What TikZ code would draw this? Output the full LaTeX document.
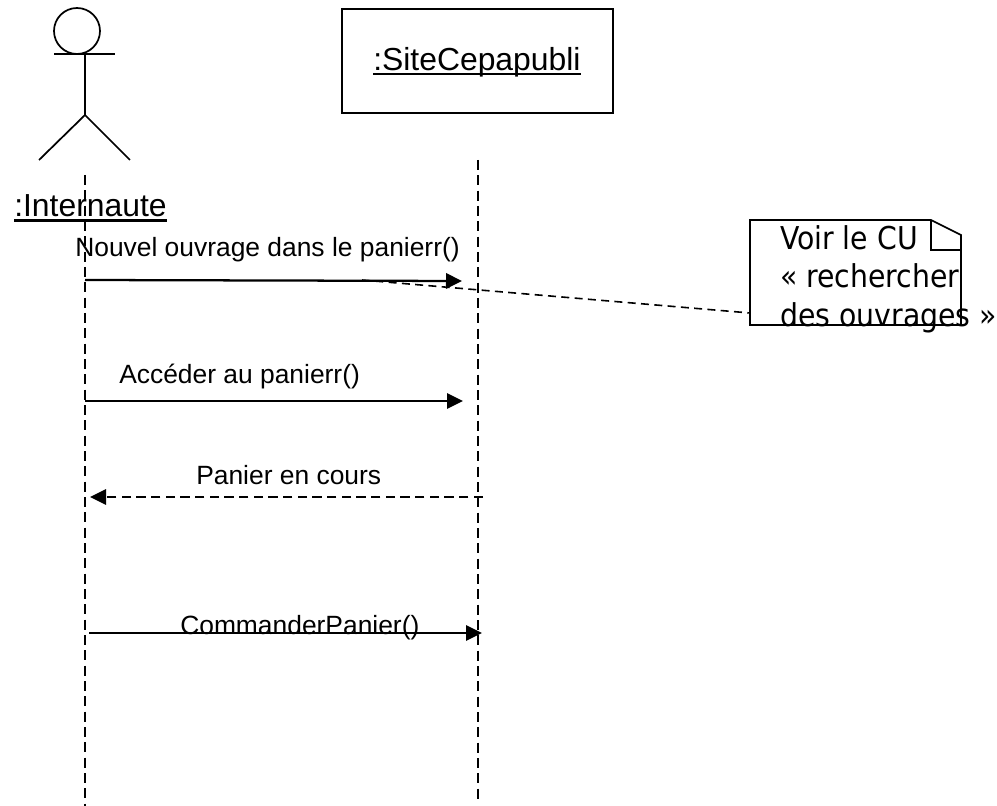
\documentclass[tikz,border=0pt]{standalone}
\usepackage{fontspec}
\setmainfont{Liberation Sans}
\newfontfamily\notefont{DejaVu Sans Condensed}
\usetikzlibrary{arrows.meta}
\newcommand{\ulbox}[3]{\setbox0=\hbox{#1}\leavevmode\rlap{\box0}\setbox0=\hbox{#1}\raisebox{#2}{\rule{\wd0}{#3}}}
\tikzset{
  x=0.75pt,y=-0.75pt,
  shape line/.style={draw=black,line width=1.3pt},
  lifeline/.style={draw=black,line width=1.3pt,dash pattern=on 7.5pt off 4pt},
  msg/.style={draw=black,line width=1.7pt,-{Triangle[length=12pt,width=11.5pt]}},
  retmsg/.style={draw=black,line width=1.7pt,dash pattern=on 7pt off 4pt,-{Triangle[length=12pt,width=11.5pt,sep=0pt]}},
  notelink/.style={draw=black,line width=1.2pt,dash pattern=on 6pt off 4pt},
  label/.style={anchor=base west,inner sep=0pt,font=\fontsize{19.8pt}{22pt}\selectfont},
  title/.style={anchor=base west,inner sep=0pt,font=\fontsize{23.9pt}{26pt}\selectfont},
  notetext/.style={anchor=base west,inner sep=0pt,font=\notefont\fontsize{23.6pt}{26pt}\selectfont},
}
\begin{document}
\begin{tikzpicture}
\useasboundingbox (0,0) rectangle (997,806);
% actor
\node[shape line,circle,minimum size=34.5pt,inner sep=0pt] (head) at (77,31) {};
\coordinate (armL) at (54,54);
\coordinate (armR) at (115,54);
\coordinate (neck) at (85,54);
\coordinate (hip) at (85,115);
\coordinate (legL) at (39,160);
\coordinate (legR) at (130,160);
\draw[shape line] (armL) -- (armR);
\draw[shape line] (neck) -- (hip);
\draw[shape line,line join=miter] (legL) -- (hip) -- (legR);
\node[title] (actorname) at (14,217) {\ulbox{:Internaute}{-3.4pt}{2pt}};
% object
\node[shape line,rectangle,minimum width=203pt,minimum height=78pt,inner sep=0pt] (site) at (477.5,61) {};
\node[title] (sitename) at (373,71) {\ulbox{:SiteCepapubli}{-2.8pt}{1.3pt}};
% lifelines
\coordinate (actorTop) at (85,175);
\coordinate (actorEnd) at (85,806);
\coordinate (siteTop) at (478,160);
\coordinate (siteEnd) at (478,800);
\draw[lifeline] (actorTop) -- (actorEnd);
\draw[lifeline] (siteTop) -- (siteEnd);
% note
\coordinate (nA) at (750,220);
\coordinate (nB) at (931,220);
\coordinate (nC) at (961,235);
\coordinate (nD) at (961,325);
\coordinate (nE) at (750,325);
\coordinate (nF) at (931,250);
\coordinate (nG) at (961,250);
\draw[shape line,line join=miter] (nA) -- (nB) -- (nC) -- (nD) -- (nE) -- cycle;
\draw[shape line] (nB) -- (nF) -- (nG);
\node[notetext] (note1) at (780,250) {Voir le CU};
\node[notetext] (note2) at (780,288) {« rechercher};
\node[notetext] (note3) at (780,326) {des ouvrages »};
% messages
\coordinate (m1a) at (85,280);
\coordinate (m1b) at (462,281);
\coordinate (m2a) at (85,401);
\coordinate (m2b) at (463,401);
\coordinate (m3a) at (483,497);
\coordinate (m3b) at (90,497);
\coordinate (m4a) at (89,633);
\coordinate (m4b) at (482,633);
\coordinate (linkS) at (362,280);
\coordinate (linkE) at (750,313);
\draw[msg] (m1a) -- (m1b);
\draw[msg] (m2a) -- (m2b);
\draw[retmsg] (m3a) -- (m3b);
\draw[msg] (m4a) -- (m4b);
\draw[notelink] (linkS) -- (linkE);
\node[label] (l1) at (75,257) {Nouvel ouvrage dans le panierr()};
\node[label] (l2) at (119,383) {Accéder au panierr()};
\node[label] (l3) at (196,484) {Panier en cours};
\node[label] (l4) at (180,634) {CommanderPanier()};
\end{tikzpicture}
\end{document}
